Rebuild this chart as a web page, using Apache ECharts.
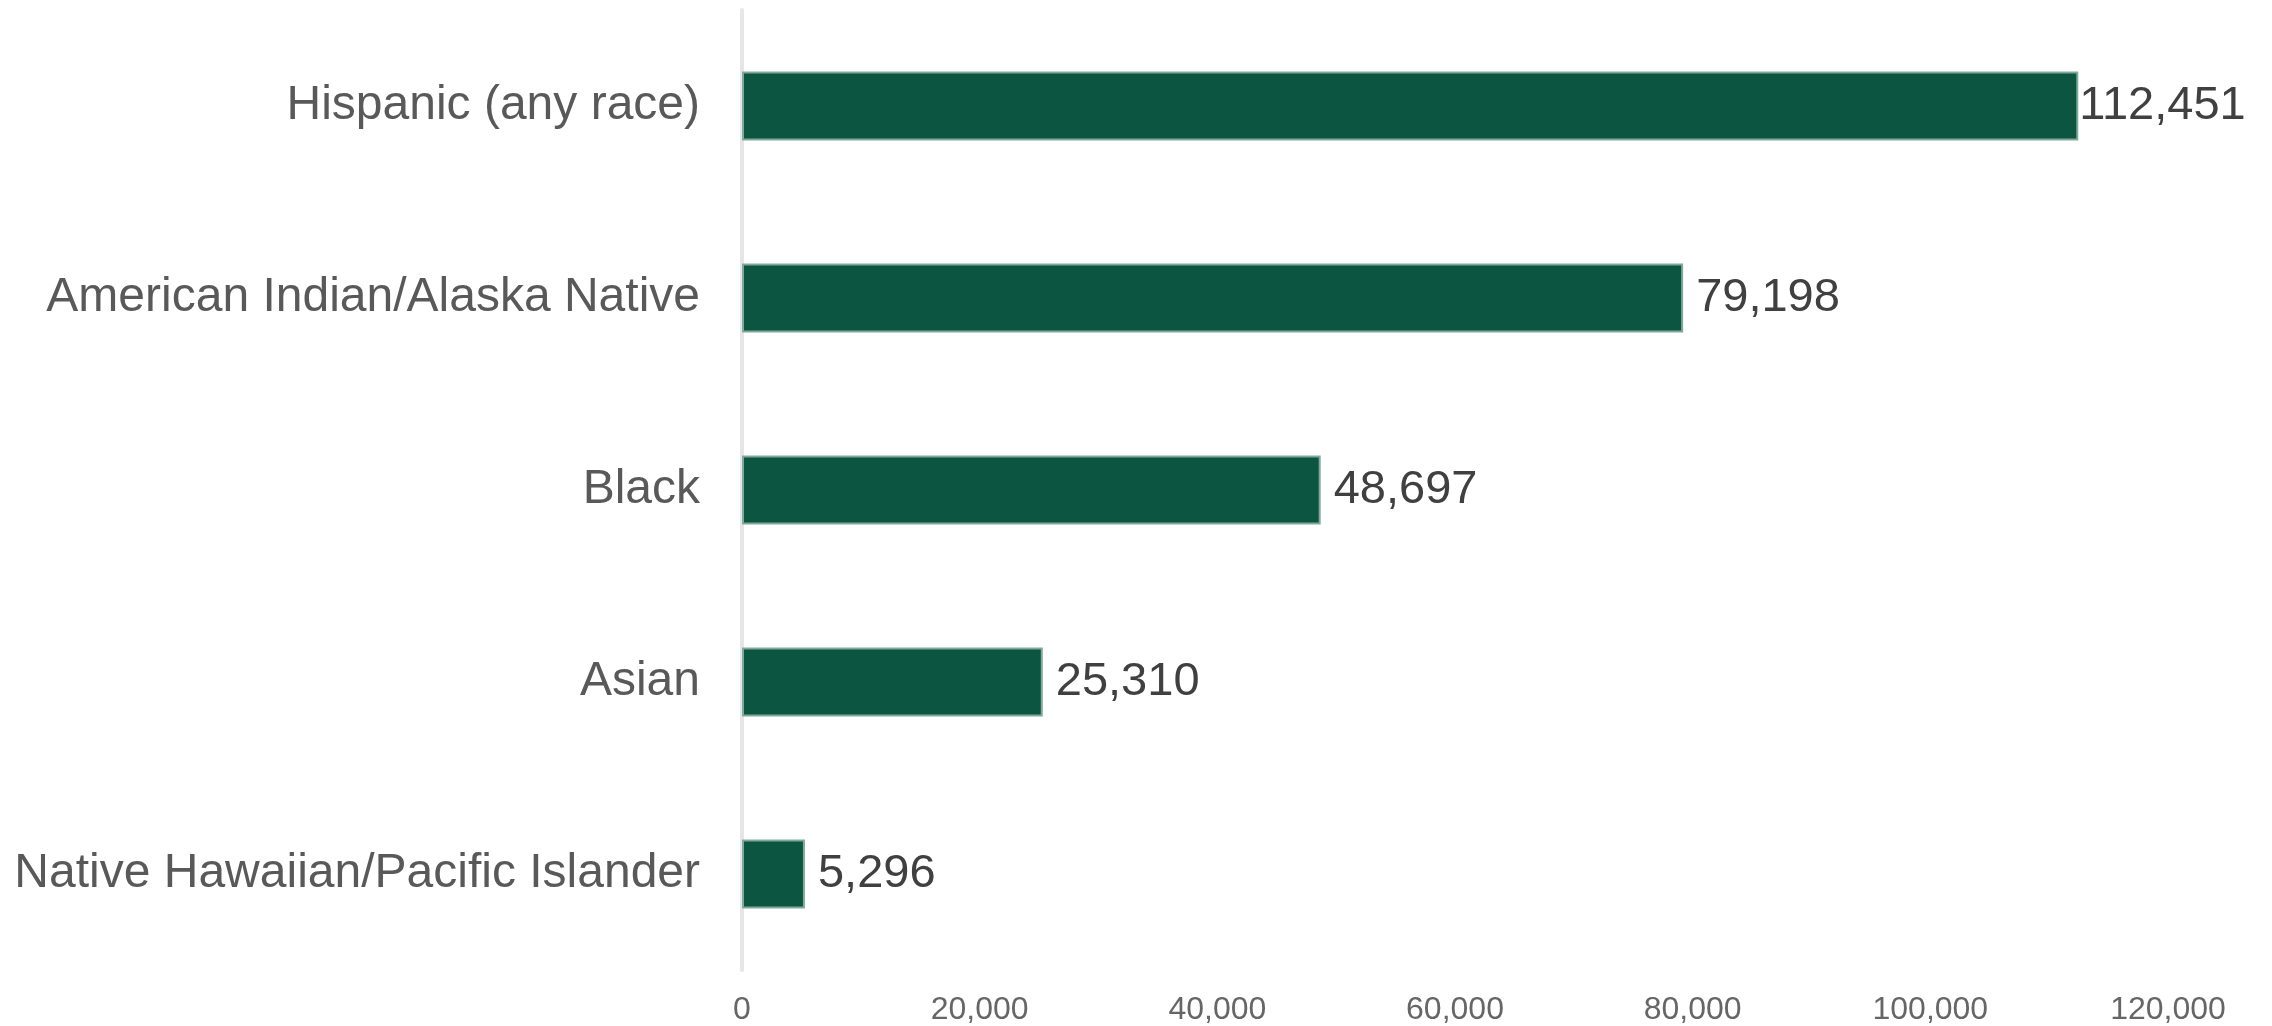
<!DOCTYPE html>
<html>
<head>
<meta charset="utf-8">
<script src="https://cdn.jsdelivr.net/npm/echarts@6/dist/echarts.min.js"></script>
<style>
  html, body { margin: 0; padding: 0; background: #ffffff; }
  #chart { width: 2272px; height: 1026px; }
</style>
</head>
<body>
<div id="chart"></div>
<script>
const categories = [
  "Hispanic (any race)",
  "American Indian/Alaska Native",
  "Black",
  "Asian",
  "Native Hawaiian/Pacific Islander"
];
const values = [112451, 79198, 48697, 25310, 5296];
const xTicks = [0, 20000, 40000, 60000, 80000, 100000, 120000];

const fmt = v => Number(v).toLocaleString('en-US');

// the longest bar's label sits right against the bar end in the reference
const seriesData = values.map((v, i) => i === 0 ? { value: v, label: { distance: 1 } } : v);

const chart = echarts.init(document.getElementById('chart'), null, { renderer: 'canvas' });
chart.setOption({
  animation: false,
  backgroundColor: '#ffffff',
  grid: { left: 742, right: 104, top: 10, bottom: 53, containLabel: false },
  xAxis: {
    type: 'value',
    min: xTicks[0],
    max: xTicks[xTicks.length - 1],
    interval: xTicks[1] - xTicks[0],
    axisLine: { show: false },
    axisTick: { show: false },
    splitLine: { show: false },
    axisLabel: {
      formatter: fmt,
      color: '#666666',
      fontFamily: 'Liberation Sans, Arial, sans-serif',
      fontSize: 32,
      margin: 24
    }
  },
  yAxis: {
    type: 'category',
    data: categories,
    inverse: true,
    axisLine: { show: true, lineStyle: { color: '#e6e6e6', width: 4 } },
    axisTick: { show: false },
    splitLine: { show: false },
    axisLabel: {
      color: '#595959',
      fontFamily: 'Liberation Sans, Arial, sans-serif',
      fontSize: 48,
      margin: 42
    }
  },
  series: [{
    type: 'bar',
    data: seriesData,
    barWidth: '36%',
    itemStyle: { color: '#0c5641', borderColor: '#80a99a', borderWidth: 2 },
    label: {
      show: true,
      position: 'right',
      distance: 13,
      formatter: p => fmt(p.value),
      color: '#404040',
      fontFamily: 'Liberation Sans, Arial, sans-serif',
      fontSize: 47
    }
  }]
});
</script>
</body>
</html>
